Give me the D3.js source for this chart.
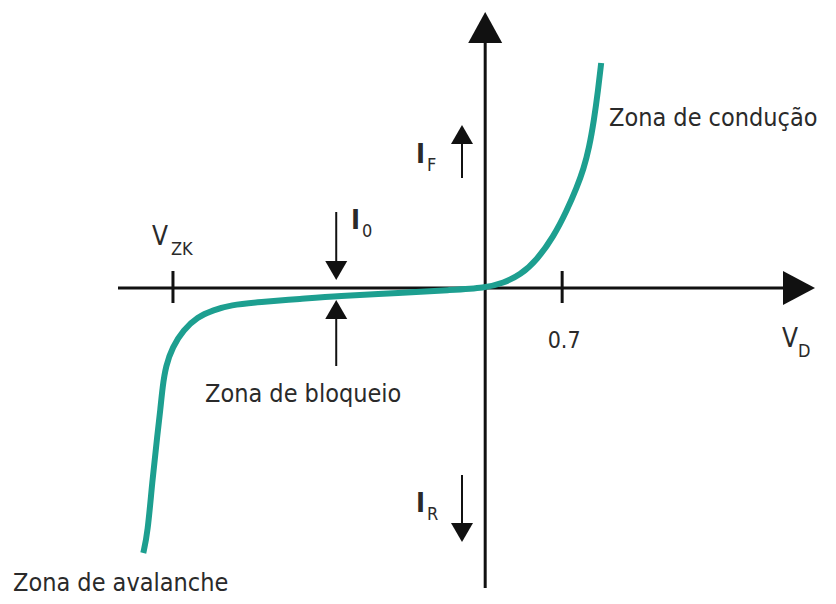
<!DOCTYPE html>
<html>
<head>
<meta charset="utf-8">
<script src="https://cdn.jsdelivr.net/npm/d3@7"></script>
<style>
  body { margin: 0; background: #fff; }
  text { font-family: "Liberation Sans Narrow", "DejaVu Sans Condensed", "Roboto", sans-serif; fill: #2a2a2a; }
</style>
</head>
<body>
<div id="chart"></div>
<script>
// diode curve, V in volts, I in arbitrary units
var curveV = [-3.11, -3.07, -3.03, -2.98, -2.955, -2.935, -2.905, -2.845, -2.745, -2.62, -2.47, -2.32, -2.05, -1.68, -1.35, -0.77, -0.32, 0, 0.165, 0.32, 0.47, 0.62, 0.745, 0.835, 0.895, 0.945, 0.99, 1.027, 1.055];
var curveI = [-26.5, -24.5, -19.5, -14.5, -12.2, -9.9, -7.8, -5.9, -4.2, -2.9, -2.2, -1.7, -1.4, -1.1, -0.8, -0.5, -0.2, 0, 0.5, 1.3, 2.8, 5.1, 7.8, 10.1, 11.9, 14.0, 16.8, 19.8, 22.5];

var tickValues = [-2.84, 0.7];
var tickLabels = ["V_ZK", "0.7"];

var zoneLabels = ["Zona de condução", "Zona de bloqueio", "Zona de avalanche"];

var width = 836, height = 604;

var svg = d3.select("#chart")
  .append("svg")
  .attr("width", width)
  .attr("height", height);

var x = d3.scaleLinear().domain([-3.34, 3.0]).range([118, 815]);
var y = d3.scaleLinear().domain([-30, 27.6]).range([588, 12]);

//Axes
svg.append("line")
  .attr("x1", x(-3.34)).attr("x2", x(3.0) - 32)
  .attr("y1", y(0)).attr("y2", y(0))
  .attr("stroke", "#111").attr("stroke-width", 3);

svg.append("path")
  .attr("d", "M" + x(3.0) + "," + y(0) + "L" + (x(3.0) - 32) + "," + (y(0) - 17) + "L" + (x(3.0) - 32) + "," + (y(0) + 17) + "Z")
  .attr("fill", "#111");

svg.append("line")
  .attr("x1", x(0)).attr("x2", x(0))
  .attr("y1", y(-30)).attr("y2", y(27.6) + 31)
  .attr("stroke", "#111").attr("stroke-width", 3);

svg.append("path")
  .attr("d", "M" + x(0) + "," + y(27.6) + "L" + (x(0) - 17) + "," + (y(27.6) + 31) + "L" + (x(0) + 17) + "," + (y(27.6) + 31) + "Z")
  .attr("fill", "#111");

// ticks crossing the axis
svg.selectAll(".tick")
  .data(tickValues)
  .enter()
  .append("line")
  .attr("class", "tick")
  .attr("x1", function(d) { return x(d); })
  .attr("x2", function(d) { return x(d); })
  .attr("y1", y(0) - 17)
  .attr("y2", y(0) + 15)
  .attr("stroke", "#111").attr("stroke-width", 3);

// tick labels
var vzk = svg.append("text")
  .attr("x", x(tickValues[0]) - 21)
  .attr("y", 245)
  .style("font-size", "26px");
vzk.append("tspan").text("V");
vzk.append("tspan").attr("dx", 3).attr("dy", 10).style("font-size", "18px").text("ZK");

svg.append("text")
  .attr("x", x(tickValues[1]) + 2)
  .attr("y", 348)
  .attr("text-anchor", "middle")
  .style("font-size", "23px")
  .text(tickLabels[1]);

var vd = svg.append("text")
  .attr("x", 782)
  .attr("y", 347)
  .style("font-size", "26px");
vd.append("tspan").text("V");
vd.append("tspan").attr("dx", 0).attr("dy", 10).style("font-size", "18px").text("D");

//Curve
var line = d3.line()
  .x(function(d, i) { return x(curveV[i]); })
  .y(function(d, i) { return y(curveI[i]); })
  .curve(d3.curveBasis);

svg.append("path")
  .datum(curveV)
  .attr("d", line)
  .attr("fill", "none")
  .attr("stroke", "#1d9f90")
  .attr("stroke-width", 6)
  .attr("stroke-linecap", "butt");

// small arrows
function arrow(xp, yFrom, yTo) {
  var dir = yTo > yFrom ? 1 : -1;
  svg.append("line")
    .attr("x1", xp).attr("x2", xp)
    .attr("y1", yFrom).attr("y2", yTo - dir * 16)
    .attr("stroke", "#111").attr("stroke-width", 2);
  svg.append("path")
    .attr("d", "M" + xp + "," + yTo + "L" + (xp - 11) + "," + (yTo - dir * 19) + "L" + (xp + 11) + "," + (yTo - dir * 19) + "Z")
    .attr("fill", "#111");
}

var xI0 = x(-1.355);
arrow(xI0, 212, 280);
arrow(xI0, 366, 300);
arrow(462, 178, 125);
arrow(462, 475, 542);

function currentLabel(xp, yp, sub) {
  var t = svg.append("text")
    .attr("x", xp)
    .attr("y", yp)
    .style("font-size", "27px")
    .style("font-weight", "bold");
  t.append("tspan").text("I");
  t.append("tspan").attr("dx", 2).attr("dy", 8).style("font-size", "18px").style("font-weight", "normal").text(sub);
}
currentLabel(351, 229, "0");
currentLabel(416, 163, "F");
currentLabel(416, 512, "R");

// zone labels
svg.append("text").attr("x", 609).attr("y", 126).style("font-size", "25px").text(zoneLabels[0]);
svg.append("text").attr("x", 205).attr("y", 402).style("font-size", "25px").text(zoneLabels[1]);
svg.append("text").attr("x", 13).attr("y", 591).style("font-size", "25px").text(zoneLabels[2]);
</script>
</body>
</html>
